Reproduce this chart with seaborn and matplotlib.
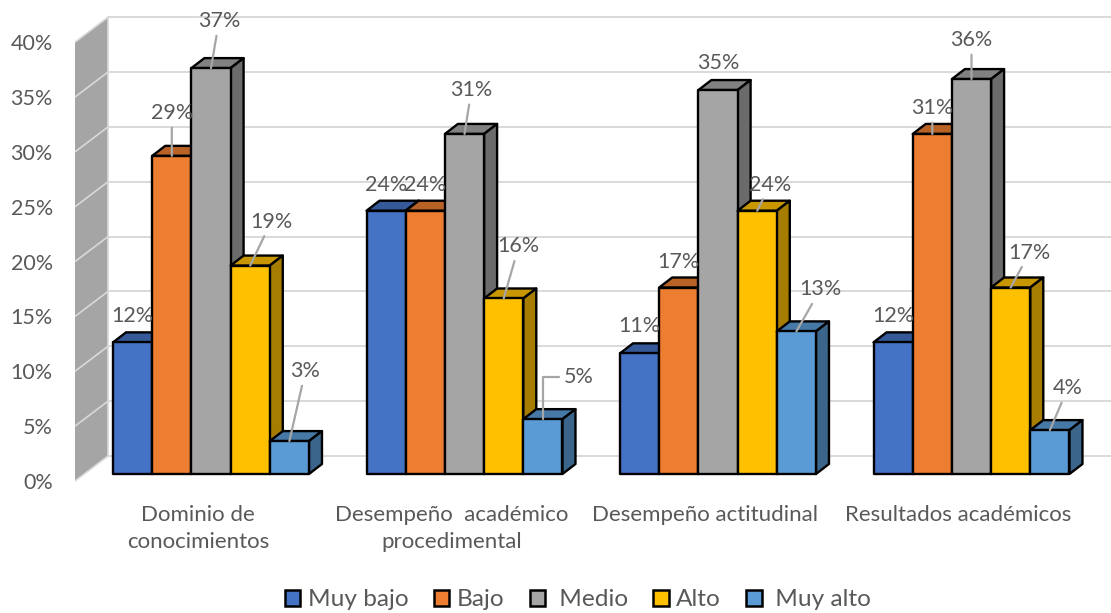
import numpy as np
import pandas as pd
import seaborn as sns
import matplotlib
matplotlib.use("Agg")
import matplotlib.pyplot as plt
from matplotlib.patches import Polygon
from matplotlib.colors import to_rgb

# ---- data ----
categories = ["Dominio de\nconocimientos", "Desempeño  académico\nprocedimental",
              "Desempeño actitudinal", "Resultados académicos"]
muy_bajo = [12, 24, 11, 12]
bajo = [29, 24, 17, 31]
medio = [37, 31, 35, 36]
alto = [19, 16, 24, 17]
muy_alto = [3, 5, 13, 4]
series_names = ["Muy bajo", "Bajo", "Medio", "Alto", "Muy alto"]
series_values = [muy_bajo, bajo, medio, alto, muy_alto]
y_ticks = [0, 5, 10, 15, 20, 25, 30, 35, 40]

# ---- style ----
colors = ["#4472c4", "#ed7d31", "#a5a5a5", "#ffc000", "#5b9bd5"]
legend_labels = ["Muy bajo", "Bajo", " Medio", "Alto", " Muy alto"]
text_color = "#595959"
grid_color = "#d9d9d9"
# label offset from the bar-top centre in pixels (dx, dy, leader style), per series then category
label_offsets = [
    [(0, 26, None), (0, 26, None), (0, 27, None), (0, 26, None)],
    [(0, 43, "s"), (0, 26, None), (0, 26, None), (0, 26, "s")],
    [(8, 47, "s"), (7, 44, "s"), (0, 27, None), (0, 39, "s")],
    [(21, 44, "s"), (15, 52, "s"), (13, 26, "s"), (19, 35, "s")],
    [(16, 70, "s"), (36, 42, "e"), (24, 42, "s"), (18, 42, "s")],
]

W, H = 1111, 613
PX_X = 253.5            # pixels per category step
PX_Y = 10.97            # pixels per percentage point
X0, Y0 = 211, 474       # pixel of first category centre / of the zero line
AX_L, AX_B = 75, 490    # axes left and bottom edge in pixels

sns.set_theme(style="white")
plt.rcParams["font.family"] = ["Lato", "DejaVu Sans"]

fig = plt.figure(figsize=(W / 100, H / 100), dpi=100, facecolor="white")
ax = fig.add_axes([AX_L / W, (H - AX_B) / H, (W - AX_L) / W, AX_B / H])

df = pd.DataFrame({
    "categoria": [c for _ in series_names for c in categories],
    "nivel": [n for n in series_names for _ in categories],
    "valor": [v for vals in series_values for v in vals],
})
sns.barplot(data=df, x="categoria", y="valor", hue="nivel", order=categories,
            hue_order=series_names, palette=colors, saturation=1, width=0.773,
            gap=0, edgecolor="black", linewidth=1.7, errorbar=None, ax=ax)

ax.set_xlim((AX_L - X0) / PX_X, (W - X0) / PX_X)
ax.set_ylim((Y0 - AX_B) / PX_Y, Y0 / PX_Y)

# depth of the bars, and shift of the wall's front and back edges
dx, dy = 13 / PX_X, 10 / PX_Y
wall_xf, wall_xb = (75 - X0) / PX_X, (108 - X0) / PX_X
front_shift, back_shift = -7 / PX_Y, 18 / PX_Y

# side wall and back grid
ax.add_patch(Polygon([(wall_xf, y_ticks[0] + front_shift), (wall_xb, y_ticks[0] + back_shift),
                      (wall_xb, y_ticks[-1] + back_shift), (wall_xf, y_ticks[-1] + front_shift)],
                     closed=True, facecolor="#a5a5a5", edgecolor="none", zorder=0.5))
for v in y_ticks:
    ax.plot([wall_xb, ax.get_xlim()[1]], [v + back_shift] * 2, color=grid_color, lw=1.4,
            zorder=0.6, solid_capstyle="butt")
    ax.plot([wall_xf, wall_xb], [v + front_shift, v + back_shift], color=grid_color, lw=1.2,
            zorder=0.7, solid_capstyle="butt")
ax.plot([wall_xb, wall_xb], [y_ticks[0] + back_shift, y_ticks[-1] + back_shift],
        color=grid_color, lw=1.2, zorder=0.7)


def shade(color, factor):
    return tuple(c * factor for c in to_rgb(color))


# 3D faces built from the bars seaborn drew, painted left to right
for s, cont in enumerate(ax.containers):
    for c, bar in enumerate(cont):
        x, w, h = bar.get_x(), bar.get_width(), bar.get_height()
        base = 3 + (c * 5 + s) * 3
        top = Polygon([(x, h), (x + dx, h + dy), (x + w + dx, h + dy), (x + w, h)], closed=True,
                      facecolor=shade(colors[s], 0.78), edgecolor="black", lw=1.7,
                      joinstyle="round", zorder=base)
        side = Polygon([(x + w, 0), (x + w + dx, dy), (x + w + dx, h + dy), (x + w, h)], closed=True,
                       facecolor=shade(colors[s], 0.65), edgecolor="black", lw=1.7,
                       joinstyle="round", zorder=base + 1)
        ax.add_patch(top)
        ax.add_patch(side)
        bar.set_zorder(base + 2)
        bar.set_joinstyle("round")

        ox, oy, leader = label_offsets[s][c]
        arrow = None
        if leader == "s":
            arrow = dict(arrowstyle="-", color="#a6a6a6", lw=1.6, shrinkA=1, shrinkB=0)
        elif leader == "e":
            arrow = dict(arrowstyle="-", color="#a6a6a6", lw=1.6, shrinkA=1, shrinkB=0,
                         connectionstyle="angle,angleA=0,angleB=90,rad=0")
        ax.annotate(f"{series_values[s][c]}%", xy=(x + w / 2, h), xytext=(ox, oy),
                    textcoords="offset pixels", ha="center", va="center", fontsize=15.5,
                    color=text_color, arrowprops=arrow, zorder=200,
                    annotation_clip=False)

# axes
sns.despine(ax=ax, left=True, bottom=True, top=True, right=True)
ax.set_xlabel("")
ax.set_ylabel("")
ax.set_yticks([v + front_shift for v in y_ticks])
ax.set_yticklabels([f"{v}%" for v in y_ticks], fontsize=15.5, color=text_color)
ax.set_xticks([i - 13 / PX_X for i in range(len(categories))])
ax.set_xticklabels(categories, fontsize=16, color=text_color, linespacing=1.45)
ax.tick_params(axis="y", length=0, pad=16)
ax.tick_params(axis="x", length=0, pad=10.5)
ax.patch.set_alpha(0)

# legend
handles = ax.get_legend_handles_labels()[0]
if ax.get_legend() is not None:
    ax.get_legend().remove()
leg = fig.legend(handles, legend_labels, ncol=5, loc="center", bbox_to_anchor=(578 / W, 1 - 600 / H),
                 frameon=False, fontsize=17.6, handlelength=0.64, handleheight=0.64,
                 handletextpad=0.3, columnspacing=1.04, labelcolor=text_color)
for p in leg.get_patches():
    p.set_edgecolor("black")
    p.set_linewidth(1.8)

fig.savefig("out.png", dpi=100, facecolor="white")
